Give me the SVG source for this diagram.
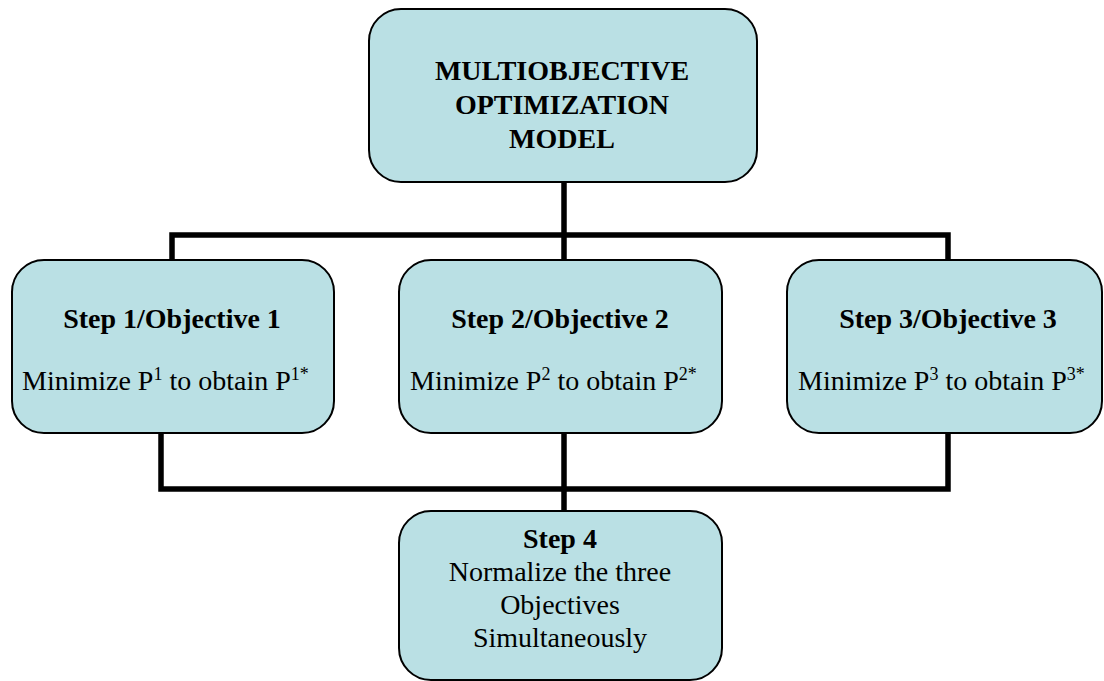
<svg xmlns="http://www.w3.org/2000/svg" width="1104" height="681" viewBox="0 0 1104 681" font-family="Liberation Serif, Times New Roman, Times, DejaVu Serif, serif">
  <style>
    .box { fill: #BAE0E4; stroke: #000; stroke-width: 2; }
    .wire { fill: none; stroke: #000; stroke-width: 5.5; stroke-linejoin: miter; stroke-linecap: square; }
    text { font-size: 28px; fill: #000; }
    .b { font-weight: bold; }
    .c { text-anchor: middle; }
    .sup { font-size: 18px; }
  </style>
  <rect width="1104" height="681" fill="#fff"/>

  <!-- connectors -->
  <g id="connectors">
    <path class="wire" d="M564 183 V235 M172 235 H948 M172 235 V258 M564 235 V258 M948 235 V258"/>
    <path class="wire" d="M161 434 V489 H948 V434 M564 434 V509"/>
  </g>

  <!-- top node -->
  <g id="model">
    <rect class="box" x="369" y="9" width="388" height="173" rx="32" ry="32"/>
    <text class="b c" x="562" y="80" font-family="Liberation Serif">MULTIOBJECTIVE</text>
    <text class="b c" x="562" y="114" font-family="Liberation Serif">OPTIMIZATION</text>
    <text class="b c" x="562" y="148" font-family="Liberation Serif">MODEL</text>
  </g>

  <g id="step1">
    <rect class="box" x="12" y="260" width="322" height="173" rx="32" ry="32"/>
    <text class="b c" x="172" y="328" font-family="Liberation Serif">Step 1/Objective 1</text>
    <text x="22" y="390" font-family="Liberation Serif">Minimize P<tspan class="sup" dy="-10">1</tspan><tspan dy="10"> to obtain P</tspan><tspan class="sup" dy="-10">1*</tspan></text>
  </g>

  <g id="step2">
    <rect class="box" x="399" y="260" width="323" height="173" rx="32" ry="32"/>
    <text class="b c" x="560" y="328" font-family="Liberation Serif">Step 2/Objective 2</text>
    <text x="410" y="390" font-family="Liberation Serif">Minimize P<tspan class="sup" dy="-10">2</tspan><tspan dy="10"> to obtain P</tspan><tspan class="sup" dy="-10">2*</tspan></text>
  </g>

  <g id="step3">
    <rect class="box" x="787" y="260" width="315" height="173" rx="32" ry="32"/>
    <text class="b c" x="948" y="328" font-family="Liberation Serif">Step 3/Objective 3</text>
    <text x="798" y="390" font-family="Liberation Serif">Minimize P<tspan class="sup" dy="-10">3</tspan><tspan dy="10"> to obtain P</tspan><tspan class="sup" dy="-10">3*</tspan></text>
  </g>

  <g id="step4">
    <rect class="box" x="399" y="511" width="323" height="169" rx="32" ry="32"/>
    <text class="b c" x="560" y="548" font-family="Liberation Serif">Step 4</text>
    <text class="c" x="560" y="581" font-family="Liberation Serif">Normalize the three</text>
    <text class="c" x="560" y="614" font-family="Liberation Serif">Objectives</text>
    <text class="c" x="560" y="647" font-family="Liberation Serif">Simultaneously</text>
  </g>
</svg>
